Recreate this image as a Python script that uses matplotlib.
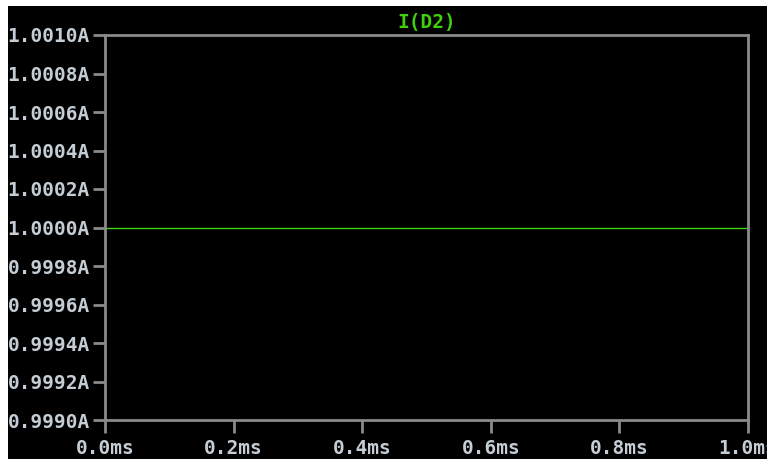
import matplotlib.pyplot as plt
from matplotlib.patches import Rectangle
from matplotlib.ticker import FixedLocator

# diode current trace
time_ms = [0.0, 1.0]
current_a = [1.0, 1.0]

x_ticks = [0.0, 0.2, 0.4, 0.6, 0.8, 1.0]
x_labels = ['0.0ms', '0.2ms', '0.4ms', '0.6ms', '0.8ms', '1.0ms']
y_ticks = [0.9990, 0.9992, 0.9994, 0.9996, 0.9998, 1.0000,
           1.0002, 1.0004, 1.0006, 1.0008, 1.0010]
y_labels = ['%.4fA' % v for v in y_ticks]

grey = '#8a8a8a'
label_col = '#c4ccd4'
trace_col = '#3fd20a'

fig = plt.figure(figsize=(7.67, 4.59), dpi=100)
fig.patch.set_facecolor('white')
fig.patches.append(Rectangle((8 / 767, 0), 1, 1 - 6 / 459, transform=fig.transFigure,
                             facecolor='black', edgecolor='none', zorder=-10))

ax = fig.add_axes([105 / 767, 39 / 459, 643 / 767, 385 / 459])
ax.set_facecolor('black')
ax.plot(time_ms, current_a, color=trace_col, linewidth=1.0)

ax.set_xlim(0, 1)
ax.set_ylim(0.9990, 1.0010)
ax.xaxis.set_major_locator(FixedLocator(x_ticks))
ax.yaxis.set_major_locator(FixedLocator(y_ticks))
ax.set_xticklabels(x_labels)
ax.set_yticklabels(y_labels)

for s in ax.spines.values():
    s.set_color(grey)
    s.set_linewidth(2)
ax.tick_params(colors=grey, length=9, width=2, direction='out')
ax.tick_params(axis='y', pad=2)
ax.tick_params(axis='x', pad=5)
for lbl in ax.get_xticklabels() + ax.get_yticklabels():
    lbl.set_color(label_col)
    lbl.set_family('DejaVu Sans Mono')
    lbl.set_fontsize(14)
    lbl.set_fontweight('bold')

ax.set_title('I(D2)', color=trace_col, family='DejaVu Sans Mono',
             fontsize=14, fontweight='bold', pad=5)

fig.savefig('out.png', facecolor=fig.get_facecolor())
